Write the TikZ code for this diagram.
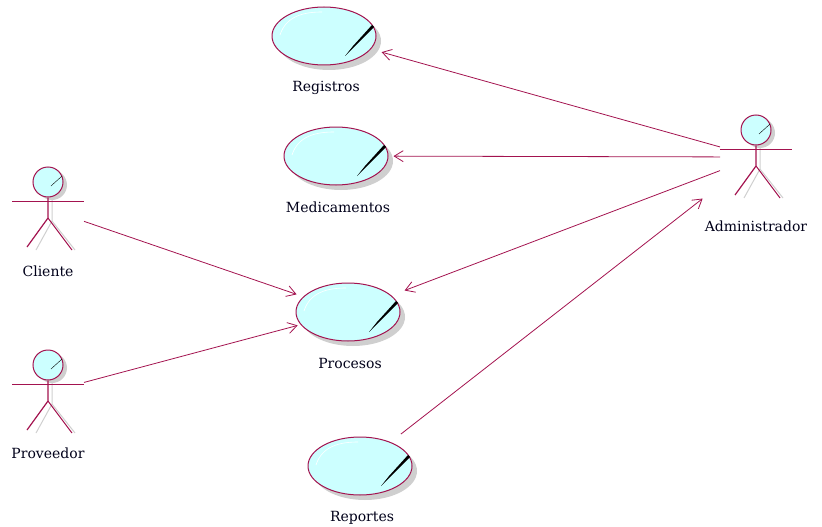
\documentclass[tikz,border=0pt]{standalone}
\usepackage{fontspec}
\setmainfont{DejaVu Serif}
\usetikzlibrary{shapes.geometric, arrows.meta}
\definecolor{umlline}{HTML}{A3134F}
\definecolor{umlfill}{HTML}{CCFFFF}
\definecolor{umlshade}{HTML}{CFCFCF}
\tikzset{
    usecase/.style={ellipse, draw=umlline, fill=umlfill, line width=1pt, minimum width=104pt, minimum height=58pt, inner sep=0pt},
    usehalo/.style={ellipse, fill=umlshade, minimum width=104pt, minimum height=58pt, inner sep=0pt},
    head/.style={circle, draw=umlline, fill=umlfill, line width=1pt, minimum size=30pt, inner sep=0pt},
    headhalo/.style={circle, fill=umlshade, minimum size=30pt, inner sep=0pt},
    actor/.style={minimum width=72pt, minimum height=84pt, inner sep=0pt, outer sep=0pt},
    caption/.style={font=\fontsize{14pt}{16pt}\selectfont, text=black!90!blue},
    link/.style={umlline, line width=0.8pt, -{Straight Barb[length=9pt, width=11pt]}}
}
\begin{document}
\begin{tikzpicture}[x=1pt, y=-1pt]
    \useasboundingbox (0,0) rectangle (822,527);
    % casos de uso
    \foreach \name/\x/\y/\txt in {registros/324/36/Registros, medicamentos/336/156/Medicamentos, procesos/348/312/Procesos, reportes/360/466/Reportes}{
        \node[usehalo] (\name-halo) at (\x+5,\y+5) {};
        \node[usecase] (\name) at (\x,\y) {};
        \draw[white, semithick] (\x-44,\y-1) .. controls (\x-38,\y-20) and (\x-20,\y-24) .. (\x-2,\y-24);
        \fill[black] (\x+48,\y-11) -- (\x+50,\y-9) -- (\x+30,\y+11) -- (\x+21,\y+20) -- (\x+29,\y+10) -- cycle;
        \node[caption] (\name-txt) at (\x+2,\y+51.5) {\txt};
    }
    % actores
    \foreach \name/\x/\y/\txt/\ty in {admin/756/157/Administrador/226, cliente/48/209/Cliente/271, proveedor/48/392/Proveedor/453}{
        \node[actor] (\name) at (\x,\y) {};
        \node[headhalo] (\name-halo) at (\x+4,\y-24) {};
        \draw[umlshade, line width=1pt] (\x+4,\y-12) -- (\x+4,\y+12) -- (\x-12,\y+41);
        \draw[umlshade, line width=1pt] (\x+4,\y+12) -- (\x+27,\y+41);
        \node[head] (\name-head) at (\x,\y-27) {};
        \draw[black] (\x+3,\y-23) -- (\x+14,\y-33);
        \draw[umlline, semithick] (\x-36,\y-8) -- (\x+36,\y-8);
        \draw[umlline, line width=1.2pt] (\name-head) -- (\x,\y+9) -- (\x-21,\y+38);
        \draw[umlline, line width=1pt] (\x,\y+9) -- (\x+24,\y+41);
        \node[caption] (\name-txt) at (\x,\ty) {\txt};
    }
    % asociaciones
    \draw[link, shorten >=11pt] (admin) -- (registros);
    \draw[link, shorten >=5pt] (admin) -- (medicamentos);
    \draw[link, shorten >=14pt] (admin) -- (procesos);
    \draw[link, shorten <=13pt, shorten >=22pt] (reportes) -- (admin);
    \draw[link, shorten >=7pt] (cliente) -- (procesos);
    \draw[link, shorten >=3pt] (proveedor) -- (procesos);
\end{tikzpicture}
\end{document}
